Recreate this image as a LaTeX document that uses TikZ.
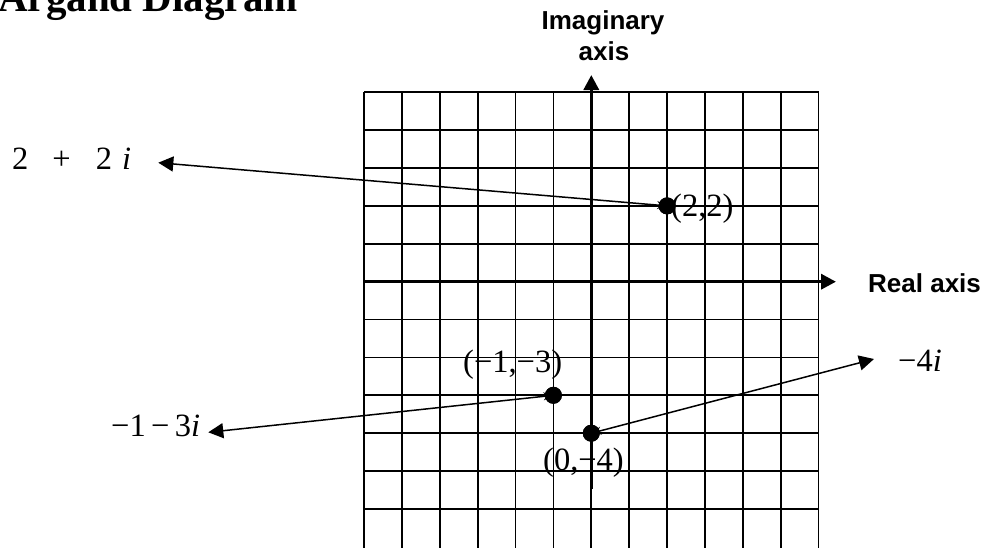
\documentclass[tikz,border=0pt]{standalone}
\usepackage{fontspec}
\setmainfont{Liberation Serif}
\newfontfamily\axisfont{Liberation Sans}
\usetikzlibrary{arrows.meta}
\begin{document}
\begin{tikzpicture}[x=1pt,y=-1pt,
  gridline/.style={line width=1.8pt},
  axisline/.style={line width=3.4pt,-{Triangle[length=15pt,width=15pt]}},
  conn/.style={line width=1.5pt,{Stealth[length=10pt,width=8pt]}-{Triangle[length=15pt,width=15pt]}},
  dot/.style={circle,fill=black,inner sep=0pt,minimum size=17pt},
  serif/.style={inner sep=0pt,anchor=base west,font=\fontsize{32.5}{38}\selectfont},
  axislabel/.style={inner sep=0pt,anchor=base,font=\axisfont\bfseries\fontsize{26}{30}\selectfont},
  titletext/.style={inner sep=0pt,anchor=base west,font=\bfseries\fontsize{41}{48}\selectfont}]
\useasboundingbox (0,0) rectangle (984,547);
% grid
\foreach \i in {0,...,12}
  \draw[gridline] ({364.1+\i*37.87},92.35) -- ({364.1+\i*37.87},548);
\foreach \j in {0,...,11}
  \draw[gridline] (364.1,{92.35+\j*37.87}) -- (818.5,{92.35+\j*37.87});
% axes
\coordinate (xs) at (364.1,281.7);
\coordinate (xe) at (836,281.7);
\coordinate (ys) at (591.3,489);
\coordinate (ye) at (591.3,75);
\draw[axisline] (xs) -- (xe);
\draw[axisline] (ys) -- (ye);
% title and axis labels
\node[titletext] (title) at (-2,11) {Argand Diagram};
\node[axislabel] (im1) at (603,29.3) {Imaginary};
\node[axislabel] (im2) at (604,60) {axis};
\node[axislabel,anchor=base west] (re) at (868,292.7) {Real axis};
% points
\node[dot] (d22) at (667.1,205.9) {};
\node[dot] (dm13) at (553.4,395.3) {};
\node[dot] (d0m4) at (591.3,433.2) {};
% point labels
\node[serif] (l22) at (671,216.7) {(2,2)};
\node[serif] (lm13) at (463,372) {(−1,−3)};
\node[serif] (l0m4) at (543,470) {(0,−4)};
% complex number labels
\node[serif] (t22) at (12,169.3) {2\hspace{24pt}+\hspace{25pt}2\hspace{10pt}\textit{i}};
\node[serif] (tm13) at (111,436.7) {−1\,−\,3\textit{i}};
\node[serif] (tm4) at (898,371.7) {−4\textit{i}};
% connector ends
\coordinate (e22) at (158.3,162.7);
\coordinate (em13) at (208.3,432.3);
\coordinate (em4) at (874,359);
% connectors
\draw[conn] (d22.center) -- (e22);
\draw[conn] (dm13.center) -- (em13);
\draw[conn] (d0m4.center) -- (em4);
% redraw dots on top
\node[dot] at (d22) {};
\node[dot] at (dm13) {};
\node[dot] at (d0m4) {};
\end{tikzpicture}
\end{document}
